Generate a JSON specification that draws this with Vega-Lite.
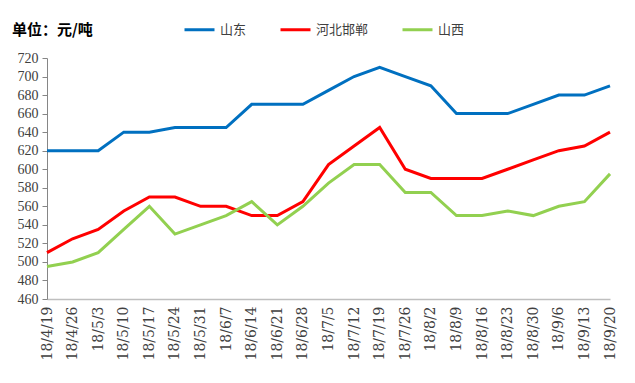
{
  "$schema": "https://vega.github.io/schema/vega-lite/v6.json",
  "autosize": "none",
  "width": 563,
  "height": 241,
  "padding": {"left": 47, "top": 58, "right": 25, "bottom": 84},
  "background": "white",
  "title": {
    "text": "单位：元/吨",
    "anchor": "start",
    "frame": "group",
    "font": "Noto Sans CJK SC",
    "fontSize": 15,
    "fontWeight": "bold",
    "color": "#000000",
    "dx": -35,
    "dy": 29,
    "offset": 4
  },
  "data": {
    "values": [
      {"date": "18/4/19", "region": "山东", "price": 620},
      {"date": "18/4/26", "region": "山东", "price": 620},
      {"date": "18/5/3", "region": "山东", "price": 620},
      {"date": "18/5/10", "region": "山东", "price": 640},
      {"date": "18/5/17", "region": "山东", "price": 640},
      {"date": "18/5/24", "region": "山东", "price": 645},
      {"date": "18/5/31", "region": "山东", "price": 645},
      {"date": "18/6/7", "region": "山东", "price": 645},
      {"date": "18/6/14", "region": "山东", "price": 670},
      {"date": "18/6/21", "region": "山东", "price": 670},
      {"date": "18/6/28", "region": "山东", "price": 670},
      {"date": "18/7/5", "region": "山东", "price": 685},
      {"date": "18/7/12", "region": "山东", "price": 700},
      {"date": "18/7/19", "region": "山东", "price": 710},
      {"date": "18/7/26", "region": "山东", "price": 700},
      {"date": "18/8/2", "region": "山东", "price": 690},
      {"date": "18/8/9", "region": "山东", "price": 660},
      {"date": "18/8/16", "region": "山东", "price": 660},
      {"date": "18/8/23", "region": "山东", "price": 660},
      {"date": "18/8/30", "region": "山东", "price": 670},
      {"date": "18/9/6", "region": "山东", "price": 680},
      {"date": "18/9/13", "region": "山东", "price": 680},
      {"date": "18/9/20", "region": "山东", "price": 690},
      {"date": "18/4/19", "region": "河北邯郸", "price": 510},
      {"date": "18/4/26", "region": "河北邯郸", "price": 525},
      {"date": "18/5/3", "region": "河北邯郸", "price": 535},
      {"date": "18/5/10", "region": "河北邯郸", "price": 555},
      {"date": "18/5/17", "region": "河北邯郸", "price": 570},
      {"date": "18/5/24", "region": "河北邯郸", "price": 570},
      {"date": "18/5/31", "region": "河北邯郸", "price": 560},
      {"date": "18/6/7", "region": "河北邯郸", "price": 560},
      {"date": "18/6/14", "region": "河北邯郸", "price": 550},
      {"date": "18/6/21", "region": "河北邯郸", "price": 550},
      {"date": "18/6/28", "region": "河北邯郸", "price": 565},
      {"date": "18/7/5", "region": "河北邯郸", "price": 605},
      {"date": "18/7/12", "region": "河北邯郸", "price": 625},
      {"date": "18/7/19", "region": "河北邯郸", "price": 645},
      {"date": "18/7/26", "region": "河北邯郸", "price": 600},
      {"date": "18/8/2", "region": "河北邯郸", "price": 590},
      {"date": "18/8/9", "region": "河北邯郸", "price": 590},
      {"date": "18/8/16", "region": "河北邯郸", "price": 590},
      {"date": "18/8/23", "region": "河北邯郸", "price": 600},
      {"date": "18/8/30", "region": "河北邯郸", "price": 610},
      {"date": "18/9/6", "region": "河北邯郸", "price": 620},
      {"date": "18/9/13", "region": "河北邯郸", "price": 625},
      {"date": "18/9/20", "region": "河北邯郸", "price": 640},
      {"date": "18/4/19", "region": "山西", "price": 495},
      {"date": "18/4/26", "region": "山西", "price": 500},
      {"date": "18/5/3", "region": "山西", "price": 510},
      {"date": "18/5/10", "region": "山西", "price": 535},
      {"date": "18/5/17", "region": "山西", "price": 560},
      {"date": "18/5/24", "region": "山西", "price": 530},
      {"date": "18/5/31", "region": "山西", "price": 540},
      {"date": "18/6/7", "region": "山西", "price": 550},
      {"date": "18/6/14", "region": "山西", "price": 565},
      {"date": "18/6/21", "region": "山西", "price": 540},
      {"date": "18/6/28", "region": "山西", "price": 560},
      {"date": "18/7/5", "region": "山西", "price": 585},
      {"date": "18/7/12", "region": "山西", "price": 605},
      {"date": "18/7/19", "region": "山西", "price": 605},
      {"date": "18/7/26", "region": "山西", "price": 575},
      {"date": "18/8/2", "region": "山西", "price": 575},
      {"date": "18/8/9", "region": "山西", "price": 550},
      {"date": "18/8/16", "region": "山西", "price": 550},
      {"date": "18/8/23", "region": "山西", "price": 555},
      {"date": "18/8/30", "region": "山西", "price": 550},
      {"date": "18/9/6", "region": "山西", "price": 560},
      {"date": "18/9/13", "region": "山西", "price": 565},
      {"date": "18/9/20", "region": "山西", "price": 595}
    ]
  },
  "mark": {"type": "line", "strokeWidth": 3},
  "encoding": {
    "x": {
      "field": "date",
      "type": "ordinal",
      "sort": null,
      "scale": {"type": "point", "padding": 0},
      "axis": {
        "title": null,
        "labelAngle": -90,
        "labelFont": "DejaVu Serif",
        "labelFontSize": 14,
        "labelColor": "#404040",
        "labelPadding": 7,
        "ticks": false,
        "domainColor": "#bfbfbf",
        "domainWidth": 1.5,
        "grid": false
      }
    },
    "y": {
      "field": "price",
      "type": "quantitative",
      "scale": {"domain": [460, 720], "nice": false, "zero": false},
      "axis": {
        "title": null,
        "values": [460, 480, 500, 520, 540, 560, 580, 600, 620, 640, 660, 680, 700, 720],
        "labelFont": "Liberation Serif",
        "labelFontSize": 14,
        "labelColor": "#404040",
        "labelPadding": 4,
        "tickSize": 5,
        "tickColor": "#868686",
        "domainColor": "#868686",
        "grid": false
      }
    },
    "color": {
      "field": "region",
      "type": "nominal",
      "scale": {"domain": ["山东", "河北邯郸", "山西"], "range": ["#0070C0", "#FF0000", "#92D050"]},
      "legend": {
        "title": null,
        "orient": "none",
        "direction": "horizontal",
        "legendX": 136,
        "legendY": -45,
        "symbolType": "stroke",
        "symbolSize": 900,
        "symbolStrokeWidth": 3,
        "labelFont": "Noto Sans CJK SC",
        "labelFontSize": 13,
        "labelColor": "#404040",
        "labelOffset": 4,
        "columnPadding": 27
      }
    }
  },
  "config": {"view": {"stroke": null}}
}
